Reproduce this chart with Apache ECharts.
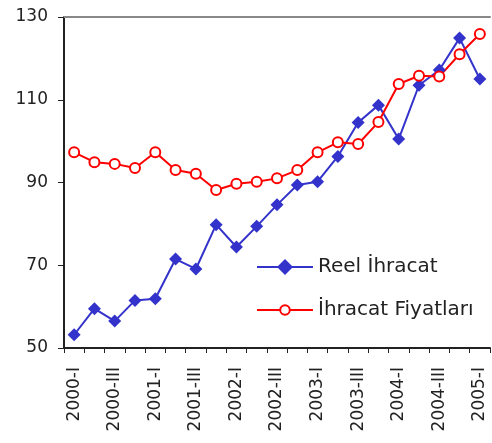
<!DOCTYPE html>
<html><head><meta charset="utf-8">
<script src="https://cdn.jsdelivr.net/npm/echarts@6/dist/echarts.min.js"></script>
<style>html,body{margin:0;padding:0;background:#fff}#c{width:492px;height:443px}</style>
</head><body><div id="c"></div>
<script>
const categories = ['2000-I','2000-II','2000-III','2000-IV','2001-I','2001-II','2001-III','2001-IV','2002-I','2002-II','2002-III','2002-IV','2003-I','2003-II','2003-III','2003-IV','2004-I','2004-II','2004-III','2004-IV','2005-I'];
const reelIhracat = [53.2,59.5,56.5,61.5,61.9,71.5,69.1,79.8,74.4,79.4,84.6,89.4,90.2,96.3,104.5,108.7,100.5,113.5,117.2,124.9,115.0];
const ihracatFiyatlari = [97.3,94.9,94.5,93.5,97.3,93.0,92.1,88.2,89.7,90.2,91.0,93.0,97.3,99.7,99.3,104.6,113.8,115.8,115.6,121.0,125.9];
const yTicks = {min:50, max:130, step:20};

const font = 'DejaVu Sans';
const legendText = {fontFamily:font, fontSize:20, lineHeight:20, color:'#222'};
const chart = echarts.init(document.getElementById('c'), null, {renderer:'canvas'});
chart.setOption({
  animation:false,
  backgroundColor:'#fff',
  grid:{left:64, right:2, top:17, bottom:95},
  legend:[{
    orient:'vertical', left:256, top:257, padding:0, itemWidth:56, itemHeight:20,
    textStyle:legendText, data:['Reel İhracat']
  },{
    orient:'vertical', left:256, top:300, padding:0, itemWidth:56, itemHeight:12,
    textStyle:legendText, data:['İhracat Fiyatları']
  }],
  xAxis:[{
    type:'category', data:categories, boundaryGap:true,
    axisLine:{lineStyle:{color:'#222', width:2}},
    axisTick:{show:true, interval:0, length:5, lineStyle:{color:'#222', width:1}},
    axisLabel:{interval:1, rotate:90, margin:19, fontFamily:font, fontSize:17, color:'#222'},
    splitLine:{show:false}
  },{
    type:'category', data:categories, position:'top',
    axisLine:{lineStyle:{color:'#888', width:2}},
    axisTick:{show:false}, axisLabel:{show:false}, splitLine:{show:false}
  }],
  yAxis:{
    type:'value', min:yTicks.min, max:yTicks.max, interval:yTicks.step,
    axisLine:{show:true, lineStyle:{color:'#222', width:2}},
    axisTick:{show:true, length:6, lineStyle:{color:'#222', width:1}},
    axisLabel:{margin:16, fontFamily:font, fontSize:17, color:'#222'},
    splitLine:{show:false}
  },
  series:[{
    name:'Reel İhracat', type:'line', data:reelIhracat,
    symbol:'diamond', symbolSize:13,
    lineStyle:{color:'#3333CC', width:2},
    itemStyle:{color:'#3333CC'}
  },{
    name:'İhracat Fiyatları', type:'line', data:ihracatFiyatlari,
    symbol:'circle', symbolSize:10,
    lineStyle:{color:'#FF0000', width:2},
    itemStyle:{color:'#fff', borderColor:'#FF0000', borderWidth:2}
  }]
});
</script></body></html>
